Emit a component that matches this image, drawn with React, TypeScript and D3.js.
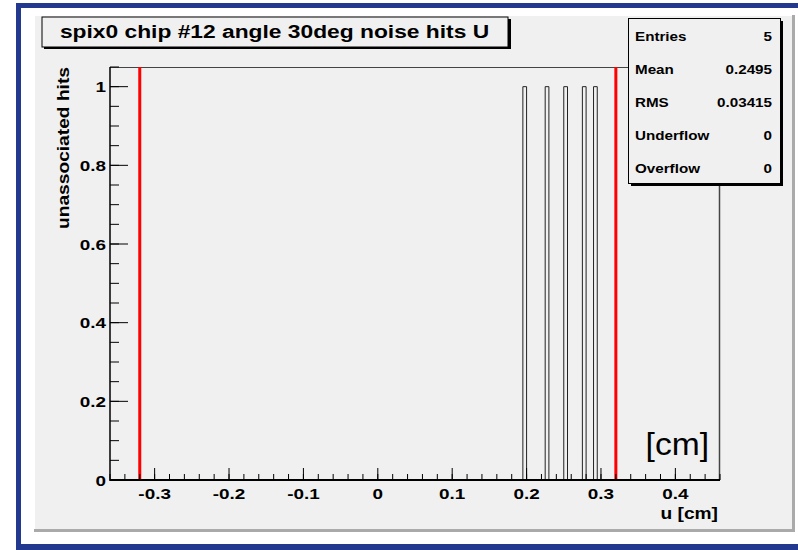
import React from "react";
import * as d3 from "d3";

// ---- data ----
const titleText = "spix0 chip #12 angle 30deg noise hits U";
const xAxisTitle = "u [cm]";
const yAxisTitle = "unassociated hits";
const unitLabel = "[cm]";
const xDomain = [-0.36, 0.46];
const yDomain = [0, 1.05];
const binWidth = 0.005;
const hitBinLow = [0.195, 0.225, 0.25, 0.275, 0.29];
const hitCounts = [1, 1, 1, 1, 1];
const redLines = [-0.32, 0.32];
const xMajorTicks = [-0.3, -0.2, -0.1, 0, 0.1, 0.2, 0.3, 0.4];
const xTickLabels = ["-0.3", "-0.2", "-0.1", "0", "0.1", "0.2", "0.3", "0.4"];
const yMajorTicks = [0, 0.2, 0.4, 0.6, 0.8, 1];
const yTickLabels = ["0", "0.2", "0.4", "0.6", "0.8", "1"];
const statLabels = ["Entries", "Mean", "RMS", "Underflow", "Overflow"];
const statValues = ["5", "0.2495", "0.03415", "0", "0"];

const FONT = "'Liberation Sans', Arial, Helvetica, sans-serif";

type TProps = {
  x: number; y: number; size: number; sx?: number; anchor?: string;
  weight?: string; rotate?: number; children: React.ReactNode; fill?: string;
};
const T = ({ x, y, size, sx = 1, anchor = "start", weight = "bold", rotate = 0, children, fill = "#000" }: TProps) => (
  <text
    transform={`translate(${x},${y}) rotate(${rotate}) scale(${sx},1)`}
    fontFamily={FONT}
    fontSize={size}
    fontWeight={weight}
    textAnchor={anchor}
    fill={fill}
  >
    {children}
  </text>
);

export default function App() {
  const W = 798, H = 550;
  const left = 110, right = 720, top = 67, bottom = 480;
  const x = d3.scaleLinear().domain(xDomain).range([left, right]);
  const y = d3.scaleLinear().domain(yDomain).range([bottom, top]);

  const xMinor = d3.range(-18, 24).map((i) => i * 0.02).filter((v) => v >= xDomain[0] - 1e-9 && v <= xDomain[1] + 1e-9);
  const yMinor = d3.range(0, 22).map((i) => i * 0.05).filter((v) => v <= yDomain[1] + 1e-9);

  const barPaths = hitBinLow.map((lo, i) => {
    const p = d3.path();
    p.moveTo(x(lo), y(0));
    p.lineTo(x(lo), y(hitCounts[i]));
    p.lineTo(x(lo + binWidth), y(hitCounts[i]));
    p.lineTo(x(lo + binWidth), y(0));
    return p.toString();
  });

  const tickSx = 1.26;
  return (
    <svg width={W} height={H} style={{ position: "absolute", left: 0, top: 0, background: "#fff" }}>
      {/* outer blue border */}
      <rect x={16} y={3} width={900} height={700} fill="#22398f" />
      <rect x={21} y={8} width={900} height={536} fill="#ffffff" />
      {/* pad */}
      <rect x={34} y={15} width={761} height={517} fill="#aaaaaa" />
      <rect x={34} y={15} width={758} height={514} fill="#f0f0f0" />
      <line x1={34.5} y1={15} x2={34.5} y2={529} stroke="#ffffff" strokeWidth={1} />
      <line x1={34} y1={15.5} x2={792} y2={15.5} stroke="#ffffff" strokeWidth={1} />

      {/* frame */}
      <line x1={left} y1={top + 0.5} x2={right} y2={top + 0.5} stroke="#444" strokeWidth={1} />
      <line x1={right - 0.5} y1={top} x2={right - 0.5} y2={bottom} stroke="#444" strokeWidth={1.5} />

      {/* histogram bars */}
      {barPaths.map((d, i) => (
        <path key={i} d={d} fill="none" stroke="#222" strokeWidth={1} />
      ))}

      {/* red lines */}
      {redLines.map((v, i) => (
        <line key={i} x1={x(v)} x2={x(v)} y1={top} y2={bottom} stroke="#ff0000" strokeWidth={3} />
      ))}

      {/* x axis ticks */}
      {xMinor.map((v, i) => (
        <line key={"xm" + i} x1={x(v)} x2={x(v)} y1={bottom} y2={bottom - 6} stroke="#000" strokeWidth={1} />
      ))}
      {xMajorTicks.map((v, i) => (
        <line key={"xM" + i} x1={x(v)} x2={x(v)} y1={bottom} y2={bottom - 12} stroke="#000" strokeWidth={1} />
      ))}
      {/* y axis ticks */}
      {yMinor.map((v, i) => (
        <line key={"ym" + i} x1={left} x2={left + 9} y1={y(v)} y2={y(v)} stroke="#000" strokeWidth={1} />
      ))}
      {yMajorTicks.map((v, i) => (
        <line key={"yM" + i} x1={left} x2={left + 18} y1={y(v)} y2={y(v)} stroke="#000" strokeWidth={1} />
      ))}
      {/* axes */}
      <line x1={left} y1={bottom} x2={right} y2={bottom} stroke="#000" strokeWidth={2} />
      <line x1={left} y1={top} x2={left} y2={bottom + 1} stroke="#000" strokeWidth={1.5} />

      {/* tick labels */}
      {xMajorTicks.map((v, i) => (
        <T key={"xl" + i} x={x(v)} y={499} size={15} sx={tickSx} anchor="middle">{xTickLabels[i]}</T>
      ))}
      {yMajorTicks.map((v, i) => (
        <T key={"yl" + i} x={106} y={y(v) + 5.5} size={15} sx={tickSx} anchor="end">{yTickLabels[i]}</T>
      ))}

      {/* axis titles */}
      <T x={718} y={519} size={16} sx={1.2} anchor="end">{xAxisTitle}</T>
      <T x={69} y={67} size={16} sx={1.2} anchor="end" rotate={-90}>{yAxisTitle}</T>

      {/* unit label */}
      <T x={709} y={455} size={32} sx={1.05} anchor="end" weight="normal">{unitLabel}</T>

      {/* title box */}
      <rect x={44} y={19} width={467} height={30} fill="#000" />
      <rect x={42} y={17} width={466} height={30} fill="#f0f0f0" stroke="#000" strokeWidth={1} />
      <T x={274.5} y={38} size={19} sx={1.2} anchor="middle">{titleText}</T>

      {/* stats box */}
      <rect x={631} y={21} width={152} height={165} fill="#000" />
      <rect x={628.5} y={18.5} width={152} height={165} fill="#f0f0f0" stroke="#000" strokeWidth={1} />
      {statLabels.map((s, i) => (
        <g key={"st" + i}>
          <T x={635} y={41 + i * 33} size={13} sx={1.17}>{s}</T>
          <T x={772} y={41 + i * 33} size={13} sx={1.17} anchor="end">{statValues[i]}</T>
        </g>
      ))}
    </svg>
  );
}
